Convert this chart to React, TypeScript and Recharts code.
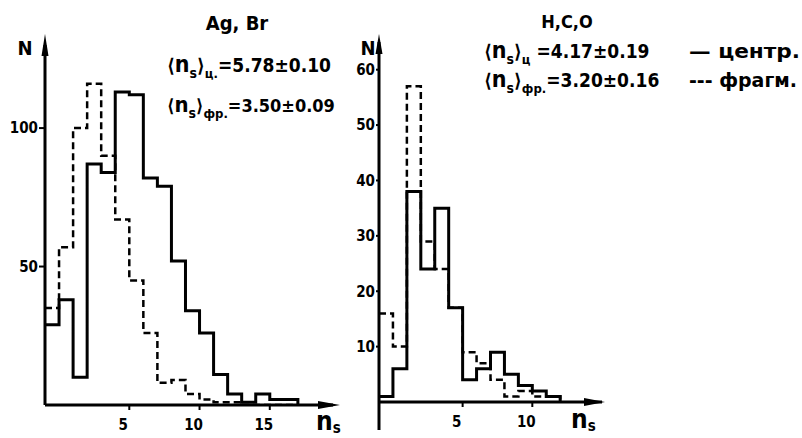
import { Line, LineChart, XAxis, YAxis } from "recharts"

// unit-width bins, the first one starts at n_s = -1 (on the N axis)
const agBinStart = -1
const agCentral = [29, 38, 10, 87, 84, 113, 112, 82, 79, 52, 34, 26, 11, 4, 1, 4, 2, 2]
const agFragm = [35, 57, 100, 116, 90, 67, 45, 26, 8, 9, 4, 2, 1, 1]
const agXTicks = [5, 10, 15]
const agYTicks = [50, 100]

const hcoBinStart = -1
const hcoCentral = [1, 6, 38, 24, 35, 17, 4, 6, 9, 5, 3, 2, 1]
const hcoFragm = [16, 10, 57, 29, 24, 17, 9, 7, 4, 1, 2, 1, 1]
const hcoXTicks = [5, 10]
const hcoYTicks = [10, 20, 30, 40, 50, 60]

const FONT = "'DejaVu Sans Condensed', 'Liberation Sans Narrow', 'DejaVu Sans', sans-serif"

function toSteps(start: number, central: number[], fragm: number[]) {
  const n = Math.max(central.length, fragm.length)
  const rows = []
  for (let i = 0; i <= n; i++) {
    rows.push({ x: start + i, central: central[i] ?? 0, fragm: fragm[i] ?? 0 })
  }
  return rows
}

interface PanelProps {
  data: { x: number; central: number; fragm: number }[]
  left: number
  width: number
  margin: { top: number; right: number; bottom: number; left: number }
  xDomain: [number, number]
  yDomain: [number, number]
  xTicks: number[]
  yTicks: number[]
  yTickSize: number
}

const tickFont = { fill: "#000", fontSize: 15, fontWeight: 700, fontFamily: FONT }

function Panel({ data, left, width, margin, xDomain, yDomain, xTicks, yTicks, yTickSize }: PanelProps) {
  return (
    <div style={{ position: "absolute", left, top: 0 }}>
      <LineChart width={width} height={438} data={data} margin={margin}>
        <XAxis
          xAxisId="n"
          dataKey="x"
          type="number"
          domain={xDomain}
          ticks={xTicks}
          interval={0}
          minTickGap={0}
          height={1}
          tickSize={5}
          tickMargin={9}
          tick={{ ...tickFont, dx: -6 }}
          axisLine={{ stroke: "#000", strokeWidth: 3 }}
          tickLine={{ stroke: "#000", strokeWidth: 2 }}
          allowDataOverflow
        />
        <YAxis
          yAxisId="N"
          type="number"
          domain={yDomain}
          ticks={yTicks}
          interval={0}
          width={1}
          tickSize={yTickSize}
          tickMargin={1}
          tick={tickFont}
          axisLine={{ stroke: "#000", strokeWidth: 3 }}
          tickLine={{ stroke: "#000", strokeWidth: 2 }}
          allowDataOverflow
        />
        <Line
          xAxisId="n"
          yAxisId="N"
          type="stepAfter"
          dataKey="fragm"
          stroke="#000"
          strokeWidth={2.5}
          strokeDasharray="7 4"
          dot={false}
          isAnimationActive={false}
        />
        <Line
          xAxisId="n"
          yAxisId="N"
          type="stepAfter"
          dataKey="central"
          stroke="#000"
          strokeWidth={3}
          dot={false}
          isAnimationActive={false}
        />
      </LineChart>
    </div>
  )
}

function Mean({ x, y, sub, value, size = 19 }: { x: number; y: number; sub: string; value: string; size?: number }) {
  return (
    <text x={x} y={y} fontFamily={FONT} fontWeight={700} fontSize={size} fill="#000">
      ⟨<tspan fontSize={size + 4}>n</tspan>
      <tspan dy={6} fontSize={14}>s</tspan>
      <tspan dy={-6}>⟩</tspan>
      <tspan dy={6} fontSize={13}>{sub}</tspan>
      <tspan dy={-6}>{value}</tspan>
    </text>
  )
}

export default function App() {
  const agData = toSteps(agBinStart, agCentral, agFragm)
  const hcoData = toSteps(hcoBinStart, hcoCentral, hcoFragm)
  return (
    <div style={{ position: "absolute", left: 0, top: 0, width: 802, height: 438, background: "#fff" }}>
      <Panel
        data={agData}
        left={0}
        width={360}
        margin={{ top: 45, right: 27, bottom: 32, left: 44 }}
        xDomain={[-1, 19.5]}
        yDomain={[0, 130]}
        xTicks={agXTicks}
        yTicks={agYTicks}
        yTickSize={6}
      />
      <Panel
        data={hcoData}
        left={340}
        width={300}
        margin={{ top: 42, right: 38, bottom: 35, left: 38 }}
        xDomain={[-1, 15]}
        yDomain={[0, 65]}
        xTicks={hcoXTicks}
        yTicks={hcoYTicks}
        yTickSize={3}
      />
      <svg width={802} height={438} style={{ position: "absolute", left: 0, top: 0 }}>
        {/* axis arrows, and the N axis of the right panel running on below zero */}
        <polygon points="45,34 41.5,56 48.5,56" fill="#000" />
        <polygon points="340,405 318,401 318,409" fill="#000" />
        <polygon points="379,34 375.5,54 382.5,54" fill="#000" />
        <polygon points="605,402 584,398 584,406" fill="#000" />
        <line x1={379} y1={402} x2={379} y2={430} stroke="#000" strokeWidth={3} />

        <text x={25} y={55} textAnchor="middle" fontFamily={FONT} fontWeight={700} fontSize={20} fill="#000">N</text>
        <text x={368} y={55} textAnchor="middle" fontFamily={FONT} fontWeight={700} fontSize={20} fill="#000">N</text>

        <text x={237} y={30} textAnchor="middle" fontFamily={FONT} fontWeight={700} fontSize={20} fill="#000">Ag, Br</text>
        <Mean x={167} y={72} sub="ц." value="=5.78±0.10" />
        <Mean x={167} y={112} sub="фр." value="=3.50±0.09" size={18} />

        <text x={567} y={28} textAnchor="middle" fontFamily={FONT} fontWeight={700} fontSize={18} fill="#000">H,C,O</text>
        <Mean x={484} y={58} sub="ц" value="  =4.17±0.19" />
        <Mean x={484} y={87} sub="фр." value="=3.20±0.16" />
        <text x={689} y={58} textLength={111} lengthAdjust="spacingAndGlyphs" fontFamily={FONT} fontWeight={700} fontSize={20} fill="#000">— центр.</text>
        <text x={689} y={87} textLength={108} lengthAdjust="spacingAndGlyphs" fontFamily={FONT} fontWeight={700} fontSize={20} fill="#000">--- фрагм.</text>

        <text x={316} y={430} fontFamily={FONT} fontWeight={700} fontSize={26} fill="#000">
          n<tspan dy={3} fontSize={15}>s</tspan>
        </text>
        <text x={571} y={428} fontFamily={FONT} fontWeight={700} fontSize={26} fill="#000">
          n<tspan dy={3} fontSize={15}>s</tspan>
        </text>
      </svg>
    </div>
  )
}
